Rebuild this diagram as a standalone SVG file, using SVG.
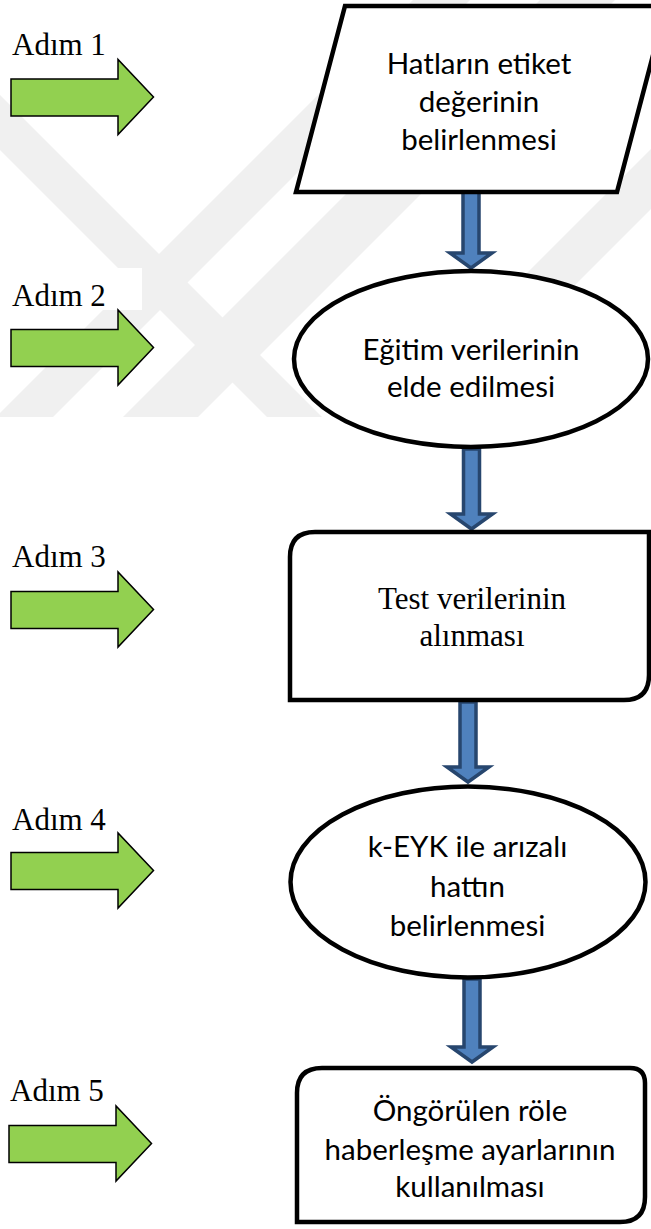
<svg xmlns="http://www.w3.org/2000/svg" width="651" height="1229" viewBox="0 0 651 1229">
  <style>
    .node { fill: #ffffff; stroke: #000000; stroke-width: 4.5; stroke-linejoin: miter; }
    .label { font-family: Lato, "Liberation Sans", sans-serif; font-size: 29.5px; fill: #000000; text-anchor: middle; }
    .label-serif { font-family: "Liberation Serif", "Times New Roman", serif; font-size: 31px; fill: #000000; text-anchor: middle; }
    .step { font-family: "Liberation Serif", "Times New Roman", serif; font-size: 31px; fill: #000000; }
    .step-arrow { fill: #92D050; stroke: #000000; stroke-width: 1.5; stroke-linejoin: miter; }
    .flow { fill: #4F81BD; stroke: #27466E; stroke-width: 3.5; stroke-linejoin: miter; }
    .mark { fill: #f0f0f0; }
  </style>
  <defs>
    <clipPath id="markArea">
      <rect x="0" y="0" width="651" height="417"/>
    </clipPath>
    <!-- green step arrow, head top at y=0 -->
    <path id="stepArrow" d="M11,19.5 H118 V0 L153.5,37.5 L118,75 V56.5 H11 Z"/>
  </defs>

  <rect x="0" y="0" width="651" height="1229" fill="#ffffff"/>

  <!-- faint background logo: diagonal bands -->
  <g id="background-mark" clip-path="url(#markArea)">
    <polygon class="mark" points="0,95 325,420 270,420 0,150"/>
    <polygon class="mark" points="0,413 0,470 470,0 413,0"/>
    <polygon class="mark" points="120,420 195,420 615,0 540,0"/>
    <polygon class="mark" points="380,420 440,420 860,0 800,0"/>
  </g>

  <!-- step labels -->
  <g id="step-1">
    <rect x="0" y="20" width="142" height="42" fill="#ffffff"/>
    <text class="step" x="12" y="55">Adım 1</text>
    <use href="#stepArrow" class="step-arrow" transform="translate(0,59.5)"/>
  </g>
  <g id="step-2">
    <rect x="0" y="268" width="142" height="42" fill="#ffffff"/>
    <text class="step" x="12" y="306">Adım 2</text>
    <use href="#stepArrow" class="step-arrow" transform="translate(0,310)"/>
  </g>
  <g id="step-3">
    <text class="step" x="12" y="567">Adım 3</text>
    <use href="#stepArrow" class="step-arrow" transform="translate(0,572)"/>
  </g>
  <g id="step-4">
    <text class="step" x="12" y="830">Adım 4</text>
    <use href="#stepArrow" class="step-arrow" transform="translate(0,833)"/>
  </g>
  <g id="step-5">
    <text class="step" x="10" y="1101">Adım 5</text>
    <use href="#stepArrow" class="step-arrow" transform="translate(-2,1106)"/>
  </g>

  <!-- connectors between process nodes -->
  <g id="connectors">
    <path class="flow" d="M463,192 H479 V253 H492 L471,268 L450,253 H463 Z"/>
    <path class="flow" d="M463.5,449 H479.5 V514 H492.5 L471.5,529 L450.5,514 H463.5 Z"/>
    <path class="flow" d="M460,702 H476 V767 H489 L468,782 L447,767 H460 Z"/>
    <path class="flow" d="M464,979 H480 V1047 H493 L472,1062 L451,1047 H464 Z"/>
  </g>

  <!-- process nodes -->
  <g id="node-1">
    <polygon class="node" points="345,6 666,6 617,192 296,192"/>
    <text class="label" x="479" y="74">Hatların etiket</text>
    <text class="label" x="479" y="112">değerinin</text>
    <text class="label" x="479" y="150">belirlenmesi</text>
  </g>
  <g id="node-2">
    <ellipse class="node" cx="471" cy="359" rx="177" ry="88"/>
    <text class="label" x="471" y="360">Eğitim verilerinin</text>
    <text class="label" x="471" y="397">elde edilmesi</text>
  </g>
  <g id="node-3">
    <path class="node" d="M290,700 V557 Q290,532 315,532 H649 V675 Q649,700 624,700 Z"/>
    <text class="label-serif" x="472" y="609">Test verilerinin</text>
    <text class="label-serif" x="472" y="646">alınması</text>
  </g>
  <g id="node-4">
    <ellipse class="node" cx="468" cy="882" rx="177.5" ry="95.5"/>
    <text class="label" x="467.5" y="857">k-EYK ile arızalı</text>
    <text class="label" x="467.5" y="897">hattın</text>
    <text class="label" x="467.5" y="936">belirlenmesi</text>
  </g>
  <g id="node-5">
    <path class="node" d="M297,1222 V1093 Q297,1068 322,1068 H630 Q645,1068 645,1083 V1197 Q645,1222 620,1222 Z"/>
    <text class="label" x="470" y="1121">Öngörülen röle</text>
    <text class="label" x="470" y="1160">haberleşme ayarlarının</text>
    <text class="label" x="470" y="1197">kullanılması</text>
  </g>
</svg>
